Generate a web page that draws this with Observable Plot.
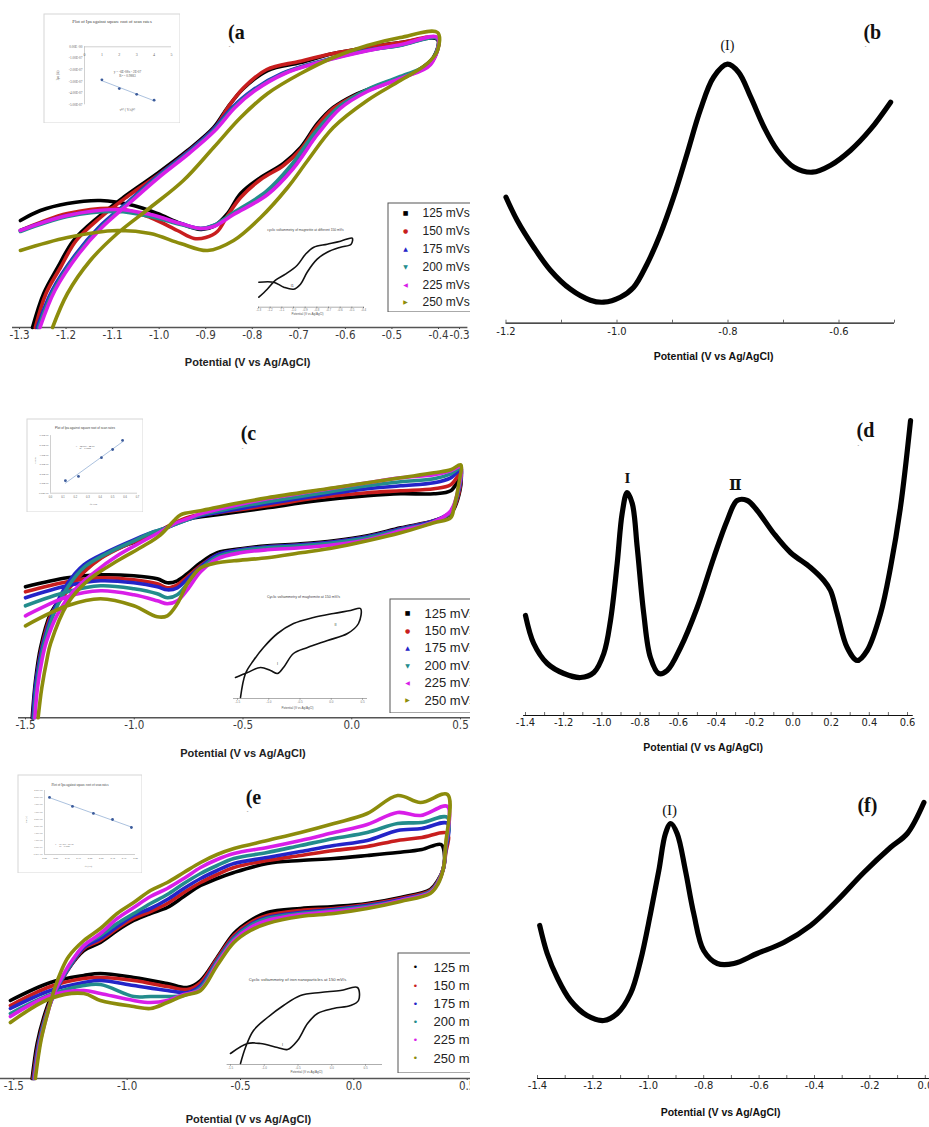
<!DOCTYPE html>
<html><head><meta charset="utf-8">
<script src="https://cdn.jsdelivr.net/npm/d3@7"></script>
<script src="https://cdn.jsdelivr.net/npm/@observablehq/plot@0.6"></script>
<style>
body{margin:0;background:#fff}
#fig{position:relative;width:929px;height:1127px;overflow:hidden;background:#fff}
</style></head><body><div id="fig"></div>
<script>
// ---------- categories / styles of the series ----------
const scanRates = ["125 mVs","150 mVs","175 mVs","200 mVs","225 mVs","250 mVs"];
const seriesColors = ["#000000","#c81e1e","#2424c8","#238c8c","#d81ee8","#8c8c0c"];
const markerGlyphs = ["■","●","▲","▼","◀","▶"];
const dotGlyphs = ["•","•","•","•","•","•"];

// ---------- tick values ----------
const ticksA = [-1.3,-1.2,-1.1,-1.0,-0.9,-0.8,-0.7,-0.6,-0.5,-0.4,-0.3];
const ticksB = [-1.2,-1.0,-0.8,-0.6];
const minorB = [-1.2,-1.1,-1.0,-0.9,-0.8,-0.7,-0.6,-0.5];
const ticksC = [-1.5,-1.0,-0.5,0.0,0.5];
const ticksD = [-1.4,-1.2,-1.0,-0.8,-0.6,-0.4,-0.2,0.0,0.2,0.4,0.6];
const minorD = [-1.4,-1.3,-1.2,-1.1,-1.0,-0.9,-0.8,-0.7,-0.6,-0.5,-0.4,-0.3,-0.2,-0.1,0.0,0.1,0.2,0.3,0.4,0.5,0.6];
const ticksE = [-1.5,-1.0,-0.5,0.0,0.5];
const ticksF = [-1.4,-1.2,-1.0,-0.8,-0.6,-0.4,-0.2,0.0];
const minorF = [-1.4,-1.3,-1.2,-1.1,-1.0,-0.9,-0.8,-0.7,-0.6,-0.5,-0.4,-0.3,-0.2,-0.1,0.0];
const insetTicksA = [-1.3,-1.2,-1.1,-1.0,-0.9,-0.8,-0.7,-0.6,-0.5,-0.4];
const insetTicksCE = [-1.5,-1.0,-0.5,0.0,0.5];

// ---------- (a) CV of magnetite: [potential V, current a.u.] ----------
const cvA125 = [[-1.272,0],[-1.248,34],[-1.218,60],[-1.184,87],[-1.132,110],[-1.077,130],[-1.004,154],[-0.939,177],[-0.883,200],[-0.853,220],[-0.819,239],[-0.767,257],[-0.696,265],[-0.626,274],[-0.553,280],[-0.482,285],[-0.402,288],
  [-0.411,270],[-0.445,257],[-0.518,244],[-0.583,232],[-0.626,220],[-0.660,204],[-0.696,180],[-0.733,164],[-0.782,150],[-0.825,134],[-0.853,114],[-0.883,101],[-0.911,98],[-0.954,104],[-1.004,114],[-1.055,122],[-1.126,127],[-1.197,124],[-1.255,117],[-1.298,107]];
const cvA150 = [[-1.266,0],[-1.243,34],[-1.212,60],[-1.178,87],[-1.126,110],[-1.071,130],[-0.998,154],[-0.935,177],[-0.880,200],[-0.851,221],[-0.818,240],[-0.769,258],[-0.700,266],[-0.626,274],[-0.553,280],[-0.482,285],[-0.402,289],
  [-0.411,268],[-0.445,256],[-0.518,243],[-0.583,231],[-0.626,219],[-0.660,202],[-0.696,178],[-0.733,162],[-0.782,148],[-0.825,130],[-0.853,112],[-0.875,96],[-0.900,90],[-0.925,89],[-0.961,97],[-1.019,110],[-1.090,119],[-1.197,114],[-1.255,105],[-1.298,97]];
const cvA175 = [[-1.262,0],[-1.230,37],[-1.178,74],[-1.130,100],[-1.071,124],[-1.007,150],[-0.942,174],[-0.886,197],[-0.843,220],[-0.800,237],[-0.736,254],[-0.663,265],[-0.556,277],[-0.485,282],[-0.402,289],
  [-0.417,264],[-0.482,250],[-0.553,237],[-0.611,220],[-0.660,194],[-0.712,160],[-0.767,134],[-0.840,114],[-0.883,102],[-0.911,99],[-0.954,104],[-1.019,112],[-1.090,117],[-1.197,112],[-1.298,97]];
const cvA200 = [[-1.259,0],[-1.227,37],[-1.175,74],[-1.126,100],[-1.068,124],[-1.004,150],[-0.939,174],[-0.883,197],[-0.840,220],[-0.797,237],[-0.733,254],[-0.660,265],[-0.553,277],[-0.482,282],[-0.402,289],
  [-0.417,265],[-0.482,251],[-0.553,238],[-0.613,221],[-0.665,195],[-0.717,162],[-0.770,136],[-0.840,115],[-0.883,102],[-0.911,99],[-0.954,103],[-1.019,111],[-1.090,116],[-1.197,111],[-1.298,96]];
const cvA225 = [[-1.256,0],[-1.224,37],[-1.172,74],[-1.123,100],[-1.065,124],[-1.001,150],[-0.936,174],[-0.880,197],[-0.837,220],[-0.794,237],[-0.730,254],[-0.657,265],[-0.550,277],[-0.480,283],[-0.402,290],
  [-0.417,263],[-0.482,249],[-0.553,236],[-0.611,219],[-0.660,193],[-0.712,159],[-0.767,133],[-0.840,113],[-0.883,101],[-0.911,99],[-0.954,104],[-1.019,113],[-1.090,118],[-1.197,112],[-1.298,97]];
const cvA250 = [[-1.229,0],[-1.197,34],[-1.148,67],[-1.090,94],[-1.019,120],[-0.948,147],[-0.883,180],[-0.825,210],[-0.767,234],[-0.696,254],[-0.626,270],[-0.553,282],[-0.482,290],[-0.402,295],
  [-0.402,277],[-0.424,264],[-0.482,247],[-0.553,227],[-0.626,200],[-0.681,167],[-0.724,140],[-0.782,110],[-0.840,87],[-0.896,77],[-0.954,84],[-1.019,94],[-1.090,97],[-1.197,90],[-1.298,77]];

// ---------- (c) CV of maghemite ----------
const cvC125 = [[-1.469,0],[-1.454,37],[-1.431,70],[-1.385,104],[-1.324,124],[-1.247,143],[-1.155,160],[-1.048,172],[-0.940,180],[-0.864,189],[-0.802,195],[-0.726,200],[-0.618,203],[-0.388,210],[-0.158,217],[0.072,222],[0.225,224],[0.378,224],[0.455,227],[0.501,240],
  [0.493,223],[0.455,204],[0.378,197],[0.225,190],[0.072,182],[-0.082,177],[-0.235,174],[-0.388,172],[-0.511,169],[-0.618,165],[-0.695,155],[-0.756,144],[-0.802,137],[-0.848,135],[-0.894,139],[-1.002,142],[-1.155,143],[-1.308,140],[-1.500,131]];
const cvC150 = [[-1.465,0],[-1.450,37],[-1.426,70],[-1.380,104],[-1.318,124],[-1.240,144],[-1.150,160],[-1.045,172],[-0.940,181],[-0.866,189],[-0.804,196],[-0.726,202],[-0.618,205],[-0.388,212],[-0.158,220],[0.072,225],[0.225,227],[0.378,229],[0.455,233],[0.501,245],
  [0.493,225],[0.455,205],[0.378,197],[0.225,189],[0.072,181],[-0.082,176],[-0.235,173],[-0.388,171],[-0.511,168],[-0.618,163],[-0.695,152],[-0.756,141],[-0.802,133],[-0.848,130],[-0.894,134],[-1.002,138],[-1.155,140],[-1.308,136],[-1.500,126]];
const cvC175 = [[-1.465,0],[-1.455,30],[-1.435,58],[-1.417,76],[-1.371,107],[-1.308,134],[-1.232,153],[-1.124,166],[-1.002,178],[-0.910,186],[-0.864,189],[-0.818,193],[-0.756,198],[-0.695,202],[-0.542,208],[-0.388,214],[-0.158,222],[0.072,229],[0.225,232],[0.378,235],[0.455,240],[0.501,248],
  [0.493,228],[0.455,206],[0.378,197],[0.225,189],[0.072,181],[-0.082,176],[-0.235,173],[-0.388,171],[-0.511,168],[-0.618,163],[-0.695,151],[-0.756,139],[-0.802,130],[-0.848,128],[-0.894,131],[-1.002,135],[-1.155,137],[-1.308,132],[-1.500,120]];
const cvC200 = [[-1.461,0],[-1.450,30],[-1.430,58],[-1.412,76],[-1.366,106],[-1.302,132],[-1.228,151],[-1.120,165],[-1.000,177],[-0.910,186],[-0.864,189],[-0.818,193],[-0.756,198],[-0.695,203],[-0.542,210],[-0.388,216],[-0.158,224],[0.072,232],[0.225,236],[0.378,239],[0.455,244],[0.501,250],
  [0.493,230],[0.455,206],[0.378,196],[0.225,188],[0.072,180],[-0.082,175],[-0.235,172],[-0.388,170],[-0.511,167],[-0.618,161],[-0.695,149],[-0.756,134],[-0.802,123],[-0.848,120],[-0.894,124],[-1.002,129],[-1.155,132],[-1.308,126],[-1.500,112]];
const cvC225 = [[-1.457,0],[-1.445,30],[-1.424,58],[-1.404,76],[-1.354,103],[-1.278,127],[-1.186,145],[-1.078,162],[-0.956,177],[-0.880,186],[-0.818,194],[-0.756,199],[-0.695,204],[-0.542,212],[-0.388,219],[-0.158,227],[0.072,235],[0.225,240],[0.378,243],[0.455,247],[0.501,251],
  [0.493,232],[0.455,207],[0.378,196],[0.225,187],[0.072,178],[-0.082,173],[-0.235,170],[-0.388,168],[-0.511,165],[-0.618,159],[-0.695,146],[-0.756,128],[-0.802,117],[-0.848,114],[-0.894,117],[-1.002,123],[-1.155,127],[-1.308,121],[-1.500,102]];
const cvC250 = [[-1.442,0],[-1.425,30],[-1.400,60],[-1.385,74],[-1.307,114],[-1.215,137],[-1.077,157],[-0.956,172],[-0.879,183],[-0.818,197],[-0.787,203],[-0.695,207],[-0.542,214],[-0.388,220],[-0.082,230],[0.225,240],[0.378,245],[0.455,248],[0.501,253],
  [0.493,235],[0.470,210],[0.455,200],[0.378,195],[0.225,185],[0.072,177],[-0.082,170],[-0.235,165],[-0.388,160],[-0.542,157],[-0.618,155],[-0.695,150],[-0.756,134],[-0.802,114],[-0.848,102],[-0.894,101],[-1.002,112],[-1.155,119],[-1.308,112],[-1.500,92]];

// ---------- (e) CV of iron nanoparticles ----------
const cvE125 = [[-1.419,0],[-1.397,35],[-1.368,61],[-1.338,80],[-1.302,94],[-1.265,108],[-1.191,128],[-1.118,136],[-1.044,148],[-0.971,158],[-0.897,165],[-0.823,171],[-0.750,182],[-0.676,193],[-0.603,200],[-0.529,206],[-0.382,215],[-0.235,218],[-0.088,220],[0.059,223],[0.193,226],[0.300,229],[0.385,234],
  [0.400,222],[0.392,208],[0.370,198],[0.337,189],[0.206,181],[0.059,175],[-0.088,172],[-0.235,170],[-0.382,166],[-0.456,158],[-0.529,145],[-0.603,121],[-0.676,98],[-0.735,91],[-0.823,95],[-0.971,101],[-1.118,105],[-1.191,103],[-1.338,96],[-1.515,78]];
const cvE150 = [[-1.415,0],[-1.392,35],[-1.363,61],[-1.333,80],[-1.297,95],[-1.260,109],[-1.191,130],[-1.118,138],[-1.044,150],[-0.971,160],[-0.897,167],[-0.823,175],[-0.750,186],[-0.676,196],[-0.603,204],[-0.529,211],[-0.382,218],[-0.235,223],[-0.088,228],[0.059,232],[0.193,238],[0.300,241],[0.413,245],
  [0.405,225],[0.395,210],[0.370,197],[0.337,188],[0.206,180],[0.059,174],[-0.088,170],[-0.235,168],[-0.382,163],[-0.456,156],[-0.529,143],[-0.603,120],[-0.676,96],[-0.735,89],[-0.823,92],[-0.971,98],[-1.118,101],[-1.191,100],[-1.338,92],[-1.515,73]];
const cvE175 = [[-1.412,0],[-1.390,35],[-1.360,61],[-1.330,80],[-1.295,96],[-1.258,110],[-1.191,131],[-1.118,140],[-1.044,152],[-0.971,163],[-0.897,170],[-0.823,179],[-0.750,190],[-0.676,200],[-0.603,208],[-0.529,215],[-0.382,221],[-0.235,227],[-0.088,233],[0.059,238],[0.193,248],[0.300,250],[0.413,255],
  [0.405,228],[0.395,210],[0.370,196],[0.337,187],[0.206,179],[0.059,173],[-0.088,169],[-0.235,166],[-0.382,161],[-0.456,154],[-0.529,141],[-0.603,118],[-0.676,93],[-0.735,86],[-0.823,88],[-0.971,93],[-1.118,98],[-1.191,96],[-1.338,88],[-1.515,70]];
const cvE200 = [[-1.410,0],[-1.388,35],[-1.358,62],[-1.328,82],[-1.292,98],[-1.255,112],[-1.191,133],[-1.118,143],[-1.044,155],[-0.971,165],[-0.897,175],[-0.823,184],[-0.750,195],[-0.676,205],[-0.603,213],[-0.529,220],[-0.382,226],[-0.235,233],[-0.088,240],[0.059,246],[0.193,255],[0.300,256],[0.413,261],
  [0.405,230],[0.395,210],[0.370,196],[0.337,187],[0.206,178],[0.059,172],[-0.088,168],[-0.235,165],[-0.382,160],[-0.456,153],[-0.529,140],[-0.603,117],[-0.676,91],[-0.750,83],[-0.823,82],[-0.897,82],[-0.971,82],[-1.118,94],[-1.191,93],[-1.338,84],[-1.515,65]];
const cvE225 = [[-1.408,0],[-1.385,35],[-1.355,62],[-1.325,84],[-1.290,100],[-1.255,114],[-1.191,133],[-1.118,145],[-1.044,160],[-0.971,171],[-0.897,182],[-0.823,190],[-0.750,200],[-0.676,211],[-0.603,219],[-0.529,225],[-0.382,231],[-0.235,238],[-0.088,246],[0.059,254],[0.193,266],[0.294,263],[0.413,272],
  [0.405,232],[0.395,210],[0.370,195],[0.337,186],[0.206,178],[0.059,171],[-0.088,167],[-0.235,164],[-0.382,158],[-0.456,151],[-0.529,138],[-0.603,115],[-0.676,89],[-0.750,84],[-0.823,78],[-0.897,76],[-0.971,78],[-1.118,85],[-1.191,88],[-1.338,83],[-1.515,62]];
const cvE250 = [[-1.405,0],[-1.380,38],[-1.350,66],[-1.320,90],[-1.290,108],[-1.258,122],[-1.191,138],[-1.118,150],[-1.044,165],[-0.971,176],[-0.897,188],[-0.823,196],[-0.750,206],[-0.676,216],[-0.603,224],[-0.529,230],[-0.382,238],[-0.235,246],[-0.088,255],[0.059,265],[0.193,283],[0.294,276],[0.413,284],
  [0.405,234],[0.395,210],[0.370,194],[0.337,185],[0.206,177],[0.059,170],[-0.088,165],[-0.235,162],[-0.382,155],[-0.456,148],[-0.529,136],[-0.603,113],[-0.676,88],[-0.750,83],[-0.823,76],[-0.897,70],[-0.971,72],[-1.118,78],[-1.191,85],[-1.338,80],[-1.515,56]];

// ---------- (b), (d), (f) differential curves ----------
const dpvB = [[-1.200,126],[-1.180,103],[-1.150,76],[-1.120,53],[-1.084,34],[-1.048,23],[-1.024,21],[-0.994,26],[-0.970,36],[-0.946,59],[-0.922,89],[-0.898,126],[-0.874,169],[-0.850,213],[-0.826,246],[-0.801,259],[-0.781,251],[-0.759,226],[-0.735,196],[-0.711,173],[-0.681,156],[-0.648,151],[-0.615,158],[-0.579,173],[-0.543,194],[-0.507,221]];
const dpvD = [[-1.400,100],[-1.357,72],[-1.286,52],[-1.199,42],[-1.112,38],[-1.042,43],[-0.990,62],[-0.955,95],[-0.920,152],[-0.894,202],[-0.868,223],[-0.841,212],[-0.815,168],[-0.781,102],[-0.746,58],[-0.702,42],[-0.658,45],[-0.588,68],[-0.501,108],[-0.414,158],[-0.344,195],[-0.292,215],[-0.239,215],[-0.187,205],[-0.100,182],[-0.013,163],[0.092,148],[0.162,135],[0.197,125],[0.232,102],[0.284,68],[0.337,55],[0.389,65],[0.459,102],[0.511,148],[0.563,208],[0.616,295]];
const dpvF = [[-1.392,153],[-1.365,125],[-1.329,101],[-1.281,78],[-1.221,63],[-1.161,58],[-1.112,65],[-1.064,85],[-1.028,118],[-0.992,165],[-0.962,208],[-0.938,245],[-0.919,255],[-0.896,245],[-0.866,208],[-0.836,165],[-0.800,128],[-0.751,115],[-0.691,115],[-0.607,125],[-0.511,136],[-0.414,153],[-0.318,178],[-0.222,206],[-0.126,231],[-0.065,245],[-0.005,276]];

// ---------- inset CV curves (150 mV/s) ----------
const insetCvA = [[-1.297,10],[-1.225,18],[-1.154,27],[-1.069,33],[-0.968,42],[-0.897,53],[-0.826,60],[-0.711,63],[-0.597,66],[-0.497,69],[-0.506,63],[-0.597,60],[-0.711,55],[-0.797,48],[-0.883,35],[-0.940,23],[-0.998,18],[-1.083,20],[-1.169,25],[-1.297,25]];
const insetCvC = [[-1.452,1],[-1.372,25],[-1.244,38],[-1.084,51],[-0.860,65],[-0.604,75],[-0.284,81],[0.036,85],[0.308,88],[0.468,90],[0.436,75],[0.260,65],[-0.060,58],[-0.380,51],[-0.604,45],[-0.764,31],[-0.860,25],[-0.972,28],[-1.132,31],[-1.340,26],[-1.532,21]];
const insetCvE = [[-1.352,1],[-1.278,17],[-1.159,34],[-0.952,47],[-0.715,59],[-0.463,69],[-0.167,72],[0.130,74],[0.381,77],[0.396,64],[0.278,59],[0.026,56],[-0.211,51],[-0.359,41],[-0.507,24],[-0.656,15],[-0.804,17],[-1.056,21],[-1.248,21],[-1.500,11]];

// ---------- inset Ipa vs square root of scan rate ----------
const ipaAx = [1,2,3,4];
const ipaAy = [-2.85e-7,-3.6e-7,-4.1e-7,-4.6e-7];
const ipaCx = [0.12,0.225,0.41,0.5,0.58];
const ipaCy = [1.3e-7,1.75e-7,3.7e-7,4.55e-7,5.5e-7];
const ipaEx = [0.022,0.123,0.215,0.299,0.382];
const ipaEy = [4.01e-6,3.38e-6,2.89e-6,2.46e-6,1.9e-6];
const ipaTicksAx = [0,1,2,3,4,5];
const ipaTicksAy = [0,-1e-7,-2e-7,-3e-7,-4e-7,-5e-7];
const ipaTicksCx = [0,0.1,0.2,0.3,0.4,0.5,0.6,0.7];
const ipaTicksCy = [0,1e-7,2e-7,3e-7,4e-7,5e-7,6e-7];
const ipaTicksEx = [0,0.05,0.1,0.15,0.2,0.25,0.3,0.35,0.4];
const ipaTicksEy = [0,5e-7,1e-6,1.5e-6,2e-6,2.5e-6,3e-6,3.5e-6,4e-6,4.5e-6];

// ---------- helpers ----------
const fig = document.getElementById("fig");
const NARROW = '"Liberation Sans Narrow","DejaVu Sans Condensed","Liberation Sans",Arial,sans-serif';
const SANS = '"Liberation Sans",Arial,sans-serif';
const SERIF = '"Liberation Serif","DejaVu Serif","Times New Roman",serif';
const xTitle = "Potential (V vs Ag/AgCl)";
const fmt1 = d => d.toFixed(1);
const fmtE = v => {
  if (v === 0) return "0.00E+00";
  const e = Math.floor(Math.log10(Math.abs(v)) + 1e-9);
  const m = v / Math.pow(10, e);
  return m.toFixed(2) + "E" + (e < 0 ? "-" : "+") + String(Math.abs(e)).padStart(2, "0");
};
function st(extra) {
  return Object.assign({background: "transparent", maxWidth: "none", fontFamily: NARROW, fontSize: "11px", color: "#333"}, extra || {});
}
function put(node, left, top) {
  node.style.position = "absolute"; node.style.left = left + "px"; node.style.top = top + "px";
  fig.appendChild(node); return node;
}
function cvRows(list) {
  return list.flatMap((pts, k) => pts.map(([V, I]) => ({rate: scanRates[k], V, I})));
}
const K = v => () => v;

function cvPanel(o) {
  return Plot.plot({
    width: o.w, height: o.h, marginTop: 0, marginLeft: 0, marginRight: 0, marginBottom: o.h - o.axis,
    style: st({fontSize: "11.5px", color: "#3a3a3a"}),
    x: {type: "linear", domain: o.xd, range: o.xr, ticks: o.ticks, tickFormat: fmt1, tickSize: o.tickSize, tickPadding: 1, label: null},
    y: {type: "linear", domain: [0, 300], range: [o.axis, o.axis - 300], axis: null},
    color: {domain: scanRates, range: seriesColors},
    marks: [
      Plot.ruleY([0], {x1: o.line[0], x2: o.line[1], stroke: "#555", strokeWidth: 1.6}),
      Plot.line(cvRows(o.data), {x: "V", y: "I", z: "rate", stroke: "rate", strokeWidth: 3.6, curve: "catmull-rom", strokeLinejoin: "round"}),
      Plot.text([xTitle], {x: K(o.titleX), frameAnchor: "bottom", dy: o.titleDy, text: d => d, fontFamily: SANS, fontWeight: "bold", fontSize: 11, fill: "#222"}),
      Plot.text([o.tag[0]], {x: K(o.tag[1]), y: K(o.tag[2]), text: d => d, fontFamily: SERIF, fontWeight: "bold", fontSize: 20, fill: "#111"}),
      Plot.text(["`"], {x: K(o.tick[0]), y: K(o.tick[1]), text: d => d, fontFamily: SANS, fontSize: 8, fill: "#666"})
    ]
  });
}

function dpvPanel(o) {
  const marks = [
    Plot.ruleY([0], {x1: o.line[0], x2: o.line[1], stroke: "#111", strokeWidth: 1.2}),
    Plot.ruleX(o.minor, {y1: 0, y2: 3, stroke: "#444", strokeWidth: 0.8}),
    Plot.line(o.data, {x: d => d[0], y: d => d[1], stroke: "#000", strokeWidth: 5.2, curve: "catmull-rom", strokeLinejoin: "round"}),
    Plot.text([xTitle], {x: K(o.titleX), frameAnchor: "bottom", dy: o.titleDy, text: d => d, fontFamily: SANS, fontWeight: "bold", fontSize: 10.5, fill: "#111"}),
    Plot.text([o.tag[0]], {x: K(o.tag[1]), y: K(o.tag[2]), text: d => d, fontFamily: SERIF, fontWeight: "bold", fontSize: 20, fill: "#111"}),
    Plot.text(o.peaks, {x: d => d[1], y: d => d[2], text: d => d[0], fontFamily: SERIF, fontWeight: o.peakWeight, fontSize: o.peakSize, fill: "#111"})
  ];
  if (o.tick) marks.push(Plot.text(["`"], {x: K(o.tick[0]), y: K(o.tick[1]), text: d => d, fontFamily: SANS, fontSize: 8, fill: "#666"}));
  return Plot.plot({
    width: o.w, height: o.h, marginTop: 0, marginLeft: 0, marginRight: 0, marginBottom: o.h - o.axis,
    style: st({fontSize: "11px", color: "#222"}),
    x: {type: "linear", domain: o.xd, range: o.xr, ticks: o.ticks, tickFormat: fmt1, tickSize: 0, tickPadding: o.pad, label: null},
    y: {type: "linear", domain: [0, 300], range: [o.axis, o.axis - 300], axis: null},
    marks
  });
}

function legendBox(left, top, w, h, row0, row5, markerX, textX, glyphs, glyphSize, fs) {
  const wrap = document.createElement("div");
  wrap.style.width = w + "px"; wrap.style.height = h + "px"; wrap.style.overflow = "hidden";
  wrap.appendChild(Plot.plot({
    width: 110, height: h, marginTop: 0.5, marginLeft: 0.5, marginRight: 0.5, marginBottom: 0.5,
    style: st({fontFamily: SANS}),
    x: {type: "linear", domain: [0, 1], range: [markerX, textX], axis: null},
    y: {type: "linear", domain: [0, 5], range: [row0, row5], axis: null},
    color: {domain: scanRates, range: seriesColors},
    marks: [
      Plot.frame({stroke: "#555", strokeWidth: 1}),
      Plot.text(scanRates, {x: K(0), y: (d, i) => i, text: (d, i) => glyphs[i], fill: d => d, fontSize: glyphSize, fontFamily: '"DejaVu Sans",sans-serif'}),
      Plot.text(scanRates, {x: K(1), y: (d, i) => i, text: d => d, textAnchor: "start", fontSize: fs, fontFamily: SANS, fill: "#222"})
    ]
  }));
  return put(wrap, left, top);
}

function cvInset(o) {
  return Plot.plot({
    width: o.w, height: o.h, marginTop: 0, marginLeft: 0, marginRight: 0, marginBottom: o.h - o.axis,
    style: st({fontFamily: SANS, fontSize: "3px", color: "#777"}),
    x: {type: "linear", domain: o.xd, range: o.xr, ticks: o.ticks, tickFormat: fmt1, tickSize: 1.5, tickPadding: 0.5, label: null},
    y: {type: "linear", domain: [0, o.ymax], range: [o.axis, o.axis - 100], axis: null},
    marks: [
      Plot.ruleY([0], {x1: o.line[0], x2: o.line[1], stroke: "#999", strokeWidth: 0.8}),
      Plot.line(o.data, {x: d => d[0], y: d => d[1], stroke: "#111", strokeWidth: 1.6, curve: "catmull-rom", strokeLinejoin: "round"}),
      Plot.text([o.title], {x: K(o.titlePos[0]), y: K(o.titlePos[1]), text: d => d, fontSize: o.titleSize, fill: "#444"}),
      Plot.text([xTitle], {x: K(o.xlab[0]), frameAnchor: "bottom", dy: o.xlab[1], text: d => d, fontSize: 3, fill: "#555"}),
      Plot.text(o.peaks, {x: d => d[1], y: d => d[2], text: d => d[0], fontSize: 3.6, fill: "#333"})
    ]
  });
}

function linInset(o) {
  const pts = o.xs.map((x, i) => ({x, y: o.ys[i]}));
  return Plot.plot({
    width: o.w, height: o.h, marginTop: 0.5, marginLeft: 0.5, marginRight: 0.5, marginBottom: 0.5,
    style: st({fontFamily: o.font, fontSize: o.fs + "px", color: "#555"}),
    x: {type: "linear", domain: o.xd, range: o.xr, axis: null},
    y: {type: "linear", domain: o.yd, range: o.yr, axis: null},
    marks: [
      Plot.frame({stroke: "#d6d6d6", strokeWidth: 1}),
      Plot.ruleY([0], {x1: o.xd[0], x2: o.xd[1], stroke: "#b0b0b0", strokeWidth: 0.6}),
      Plot.ruleX([o.xd[0]], {y1: o.yd[0], y2: o.yd[1], stroke: "#b0b0b0", strokeWidth: 0.6}),
      Plot.text(o.xt, {x: d => d, y: K(0), dy: o.xdy, text: o.xfmt, fontSize: o.fs, fill: "#666"}),
      Plot.text(o.yt, {x: K(o.xd[0]), y: d => d, dx: -2, textAnchor: "end", text: fmtE, fontSize: o.fs * 0.85, fill: "#666"}),
      Plot.linearRegressionY(pts, {x: "x", y: "y", stroke: "#86a6d0", strokeWidth: 0.7, ci: 0}),
      Plot.dot(pts, {x: "x", y: "y", r: 1.4, fill: "#3b5b9b"}),
      Plot.text([o.title], {frameAnchor: "top", dy: o.titleDy, text: d => d, fontSize: o.titleSize, fill: "#444"}),
      Plot.text([o.eq], {x: K(o.eqPos[0]), y: K(o.eqPos[1]), text: d => d, fontSize: o.fs * 0.85, fill: "#555", lineHeight: 1.1}),
      Plot.text([o.ylab], {frameAnchor: "left", dx: o.ylabPos[0], y: K(o.ylabPos[1]), rotate: -90, text: d => d, fontSize: o.fs * 0.85, fill: "#555"}),
      Plot.text([o.xlab], {x: K(o.xlabPos[0]), y: K(o.xlabPos[1]), text: d => d, fontSize: o.fs * 0.85, fill: "#555"})
    ]
  });
}

// ================= (a) =================
put(cvPanel({w: 470, h: 372, axis: 327, xd: [-1.3, -0.4, -0.3], xr: [19, 438, 459], ticks: ticksA, tickSize: 2,
  line: [-1.315, -0.26], data: [cvA125, cvA150, cvA175, cvA200, cvA225, cvA250],
  titleX: -0.81, titleDy: 38, tag: ["(a", -0.834, 295], tick: [-0.849, 279]}), 0, 0);
put(linInset({w: 137, h: 110, xd: [0, 5], xr: [41, 128], yd: [-5e-7, 0], yr: [91.3, 33.3],
  xs: ipaAx, ys: ipaAy, xt: ipaTicksAx, yt: ipaTicksAy, xfmt: d => String(d), xdy: 7.5, fs: 4, font: SERIF,
  title: "Plot of Ipa against square root of scan rates", titleDy: 6, titleSize: 4.6,
  eq: "y = -6E-08x - 2E-07\nR² = 0.9883", eqPos: [2.47, -2.3e-7],
  ylab: "Ipa (A)", ylabPos: [14, -2.9e-7], xlab: "ν½ ( V/s)½", xlabPos: [2.47, -5.4e-7]}), 43, 13);
put(cvInset({w: 120, h: 95, axis: 84.7, xd: [-1.3, -0.4], xr: [8, 113], ticks: insetTicksA, ymax: 100,
  line: [-1.3, -0.4], data: insetCvA, title: "cyclic voltammetry of magnetite at different 150 mVs",
  titlePos: [-0.897, 77], titleSize: 3.3, xlab: [-0.88, 7.3], peaks: [["I1", -1.011, 21]]}), 250, 222);
legendBox(387, 202, 83, 110, 11, 100, 18, 35, markerGlyphs, 6, 12);

// ================= (b) =================
put(dpvPanel({w: 439, h: 372, axis: 322.7, xd: [-1.2, -0.5], xr: [15.5, 404], ticks: ticksB, minor: minorB, pad: 4,
  line: [-1.2, -0.5], data: dpvB, titleX: -0.826, titleDy: 37, tag: ["(b", -0.54, 291], tick: [-0.552, 275],
  peaks: [["(I)", -0.801, 278]], peakSize: 14, peakWeight: "normal"}), 490, 0);

// ================= (c) =================
put(cvPanel({w: 470, h: 380, axis: 337.3, xd: [-1.5, 0.5], xr: [25, 460], ticks: ticksC, tickSize: 2,
  line: [-1.532, 0.55], data: [cvC125, cvC150, cvC175, cvC200, cvC225, cvC250],
  titleX: -0.5, titleDy: 39, tag: ["(c", -0.475, 284], tick: [-0.502, 267]}), 0, 380);
put(linInset({w: 117, h: 94, xd: [0, 0.7], xr: [24, 111], yd: [0, 6e-7], yr: [74.7, 17.1],
  xs: ipaCx, ys: ipaCy, xt: ipaTicksCx, yt: ipaTicksCy, xfmt: d => d.toFixed(1), xdy: 4, fs: 2.6, font: SANS,
  title: "Plot of Ipa against square root of scan rates", titleDy: 8, titleSize: 3.1,
  eq: "y = 1E-06x - 1E-07\nR² = 0.9871", eqPos: [0.28, 4.8e-7],
  ylab: "Ipa (A)", ylabPos: [8, 3.1e-7], xlab: "√ν (V/s)", xlabPos: [0.346, -1.2e-7]}), 26, 418);
put(cvInset({w: 145, h: 125, axis: 108, xd: [-1.5, 0.5], xr: [9, 134], ticks: insetTicksCE, ymax: 100,
  line: [-1.564, 0.58], data: insetCvC, title: "Cyclic voltammetry of maghemite at 150 mV/s",
  titlePos: [-0.444, 102], titleSize: 3.6, xlab: [-0.54, 10], peaks: [["I", -0.86, 35], ["II", 0.068, 74]]}), 228, 590);
legendBox(389, 598, 81, 115, 15, 102, 18, 35, markerGlyphs, 6, 13);

// ================= (d) =================
put(dpvPanel({w: 439, h: 380, axis: 335, xd: [-1.4, 0.65], xr: [35, 426.55], ticks: ticksD, minor: minorD, pad: 3,
  line: [-1.41, 0.63], data: dpvD, titleX: -0.47, titleDy: 35, tag: ["(d", 0.38, 285], tick: [0.343, 268],
  peaks: [["I", -0.866, 237], ["Ⅱ", -0.301, 230]], peakSize: 15, peakWeight: "bold"}), 490, 380);

// ================= (e) =================
put(cvPanel({w: 470, h: 367, axis: 318, xd: [-1.5, 0.5], xr: [13.3, 466.7], ticks: ticksE, tickSize: 2,
  line: [-1.56, 0.52], data: [cvE125, cvE150, cvE175, cvE200, cvE225, cvE250],
  titleX: -0.465, titleDy: 44, tag: ["(e", -0.443, 281], tick: [-0.469, 265]}), 0, 760);
put(linInset({w: 125, h: 99, xd: [0, 0.4], xr: [27, 118], yd: [0, 4.5e-6], yr: [80, 16],
  xs: ipaEx, ys: ipaEy, xt: ipaTicksEx, yt: ipaTicksEy, xfmt: d => d.toFixed(2), xdy: 4, fs: 2.6, font: SERIF,
  title: "Plot of Ipa against square root of scan rates", titleDy: 9, titleSize: 3.3,
  eq: "y = -6E-06x + 4E-06\nR² = 0.9946", eqPos: [0.088, 6.6e-7],
  ylab: "Ipa (A)", ylabPos: [8, 2.25e-6], xlab: "√ν (V/s)", xlabPos: [0.193, -0.85e-6]}), 17, 774);
put(cvInset({w: 165, h: 120, axis: 104, xd: [-1.5, 0.5], xr: [8, 143], ticks: insetTicksCE, ymax: 100,
  line: [-1.55, 0.752], data: insetCvE, title: "Cyclic voltammetry of iron nanoparticles at 150 mV/s",
  titlePos: [-0.507, 85], titleSize: 4.2, xlab: [-0.374, 8], peaks: [["I", -0.73, 20]]}), 222, 960);
legendBox(397, 952, 73, 121, 15, 106, 18, 36, dotGlyphs, 9, 13);

// ================= (f) =================
put(dpvPanel({w: 439, h: 367, axis: 318, xd: [-1.4, 0.0], xr: [47, 434.8], ticks: ticksF, minor: minorF, pad: 3,
  line: [-1.4, 0.015], data: dpvF, titleX: -0.739, titleDy: 37, tag: ["(f)", -0.209, 273], tick: null,
  peaks: [["(I)", -0.923, 268]], peakSize: 15, peakWeight: "normal"}), 490, 760);
</script>
</body></html>
